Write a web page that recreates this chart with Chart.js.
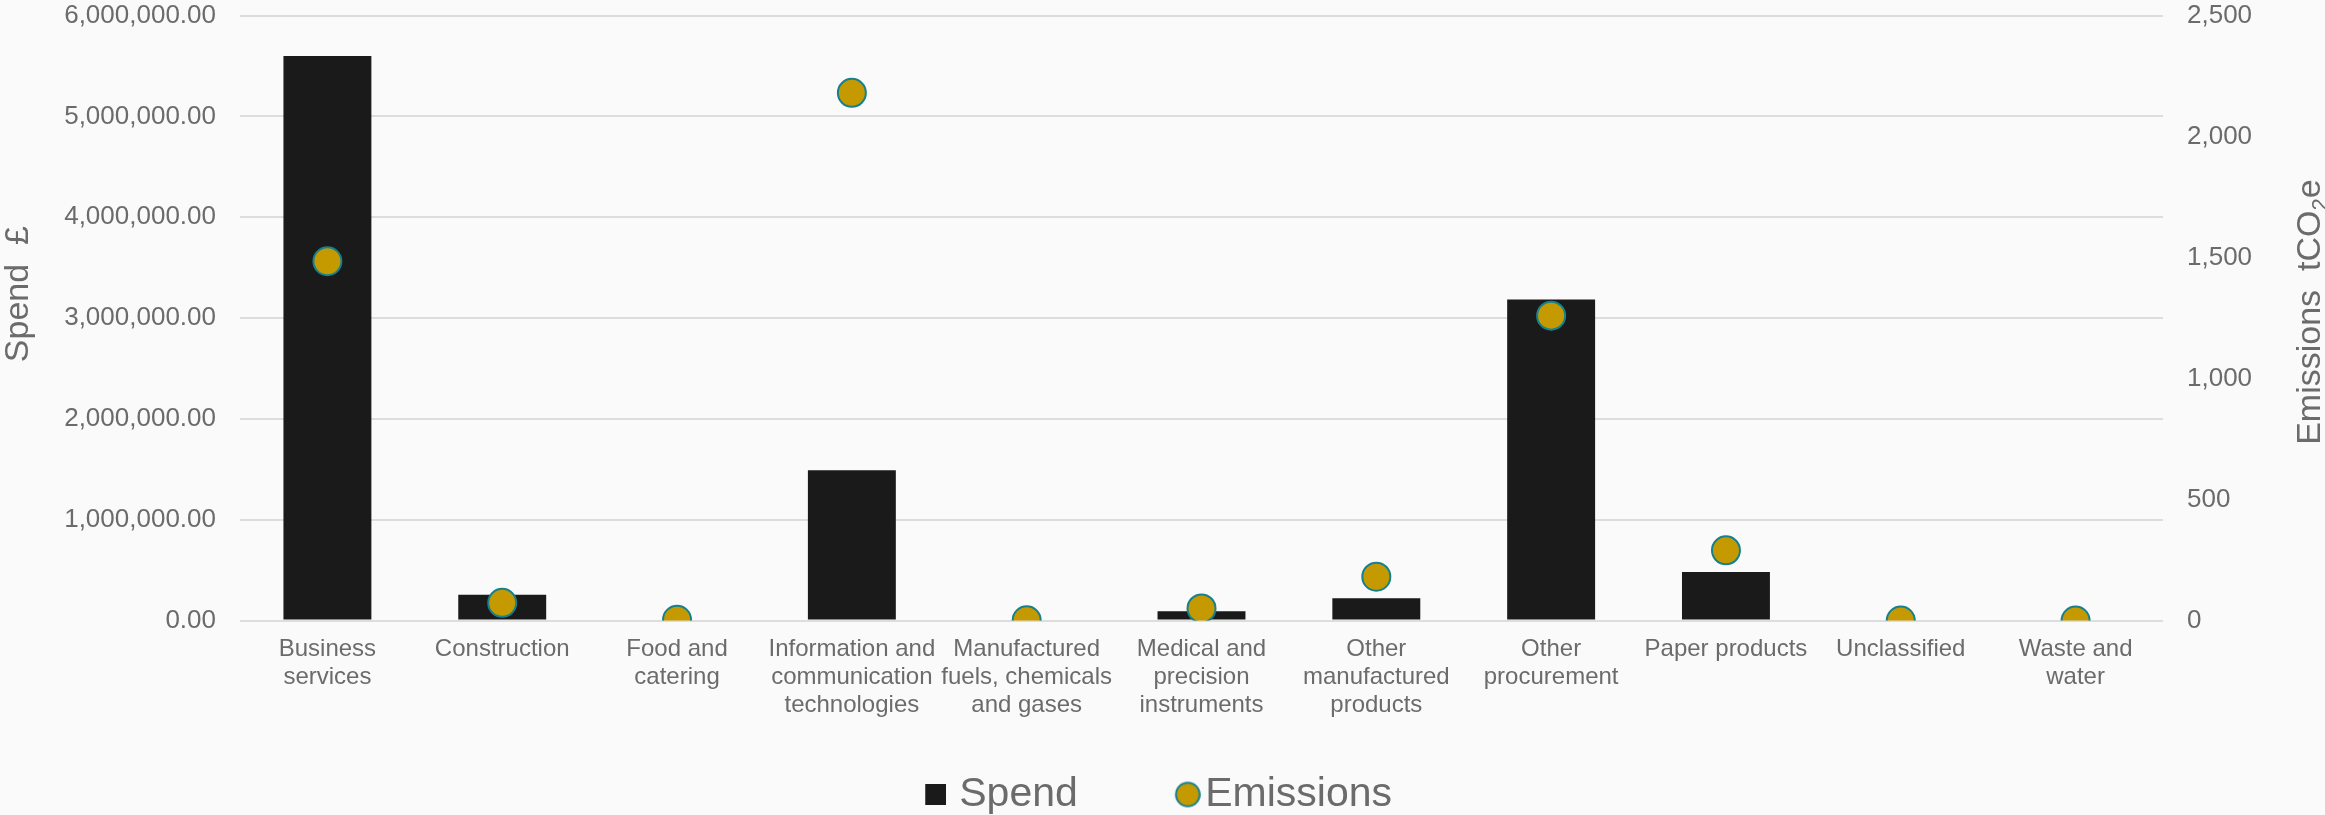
<!DOCTYPE html>
<html>
<head>
<meta charset="utf-8">
<title>Spend and emissions by category</title>
<script src="https://cdn.jsdelivr.net/npm/chart.js@4/dist/chart.umd.min.js"></script>
<style>
  html, body { margin: 0; padding: 0; background: #fafafa; overflow: hidden; }
  #wrap { width: 2325px; height: 825px; }
</style>
</head>
<body>
<div id="wrap"><canvas id="myChart" width="2325" height="825"></canvas></div>
<script>
const categories = [
  ['Business', 'services'],
  ['Construction'],
  ['Food and', 'catering'],
  ['Information and', 'communication', 'technologies'],
  ['Manufactured', 'fuels, chemicals', 'and gases'],
  ['Medical and', 'precision', 'instruments'],
  ['Other', 'manufactured', 'products'],
  ['Other', 'procurement'],
  ['Paper products'],
  ['Unclassified'],
  ['Waste and', 'water']
];

// spend in pounds
const spend = [5600000, 255000, 0, 1490000, 0, 93000, 220000, 3185000, 482000, 0, 0];

// emissions in tCO2e
const emissions = [1485, 73, 3, 2181, 1, 50, 181, 1260, 290, 0, 0];

const spendTicks = [0, 1000000, 2000000, 3000000, 4000000, 5000000, 6000000];
const emissionTicks = [0, 500, 1000, 1500, 2000, 2500];

const grey = '#6b6b6b';
const barColour = '#1a1a1a';
const dotFill = '#c49a00';
const dotEdge = '#16808f';
const fontFamily = '"Liberation Sans", Arial, sans-serif';

Chart.defaults.font.family = fontFamily;
Chart.defaults.color = grey;

// legend markers: a square for the bars, a ringed dot for the emissions
function squareMarker() {
  const c = document.createElement('canvas');
  c.width = 55; c.height = 21;
  const g = c.getContext('2d');
  g.fillStyle = barColour;
  g.fillRect(34, 0, 21, 21);
  return c;
}
function dotMarker() {
  const c = document.createElement('canvas');
  c.width = 72; c.height = 28;
  const g = c.getContext('2d');
  g.beginPath();
  g.arc(59, 14, 11.8, 0, Math.PI * 2);
  g.fillStyle = dotFill;
  g.fill();
  g.lineWidth = 2;
  g.strokeStyle = dotEdge;
  g.stroke();
  return c;
}

// rotated axis titles, both reading bottom to top
const axisTitles = {
  id: 'axisTitles',
  afterDraw(chart) {
    const c = chart.ctx;
    const area = chart.chartArea;
    const mid = (area.top + area.bottom) / 2;
    c.save();
    c.fillStyle = grey;
    c.textBaseline = 'alphabetic';
    c.font = '34px ' + fontFamily;

    c.save();
    c.translate(28, mid - 24);
    c.rotate(-Math.PI / 2);
    c.textAlign = 'center';
    c.fillText('Spend  £', 0, 0);
    c.restore();

    const main = 'Emissions  tCO';
    const tail = 'e';
    const w1 = c.measureText(main).width;
    const w3 = c.measureText(tail).width;
    c.font = '22px ' + fontFamily;
    const w2 = c.measureText('2').width;
    const total = w1 + w2 + w3;
    c.translate(chart.width - 5, mid - 6);
    c.rotate(-Math.PI / 2);
    c.textAlign = 'left';
    let x = -total / 2;
    c.font = '34px ' + fontFamily;
    c.fillText(main, x, 0);
    x += w1;
    c.font = '22px ' + fontFamily;
    c.fillText('2', x, 7);
    x += w2;
    c.font = '34px ' + fontFamily;
    c.fillText(tail, x, 0);
    c.restore();
  }
};

const ctx = document.getElementById('myChart');

new Chart(ctx, {
  data: {
    labels: categories,
    datasets: [
      {
        type: 'line',
        label: 'Emissions',
        data: emissions,
        yAxisID: 'y1',
        showLine: false,
        pointStyle: 'circle',
        pointRadius: 14,
        pointHoverRadius: 14,
        pointBorderWidth: 2,
        pointBackgroundColor: dotFill,
        pointBorderColor: dotEdge,
        backgroundColor: dotFill,
        borderColor: dotEdge,
        order: 0
      },
      {
        type: 'bar',
        label: 'Spend',
        data: spend,
        yAxisID: 'y',
        backgroundColor: barColour,
        borderWidth: 0,
        categoryPercentage: 1,
        barPercentage: 0.503,
        order: 1
      }
    ]
  },
  plugins: [axisTitles],
  options: {
    responsive: false,
    animation: false,
    devicePixelRatio: 1,
    layout: { padding: 0, autoPadding: false },
    plugins: {
      tooltip: { enabled: false },
      legend: {
        position: 'bottom',
        reverse: true,
        labels: {
          usePointStyle: true,
          boxHeight: 17,
          padding: 10,
          color: grey,
          font: { size: 41 },
          generateLabels: chart => {
            const items = Chart.defaults.plugins.legend.labels.generateLabels(chart);
            items.forEach(item => {
              if (item.text === 'Spend') {
                item.pointStyle = squareMarker();
                item.text = 'Spend' + '\u00A0'.repeat(5);
              } else {
                item.pointStyle = dotMarker();
                item.text = item.text + '\u00A0'.repeat(3);
              }
            });
            return items;
          }
        }
      }
    },
    scales: {
      x: {
        grid: { display: false, drawTicks: false },
        border: { display: false },
        ticks: {
          autoSkip: false,
          maxRotation: 0,
          minRotation: 0,
          padding: 15,
          color: grey,
          font: { size: 24, lineHeight: 1.16 }
        },
        afterFit: s => { s.height = 143.5; }
      },
      y: {
        position: 'left',
        min: 0,
        max: 6000000,
        afterBuildTicks: s => { s.ticks = spendTicks.map(v => ({ value: v })); },
        grid: { color: '#dddddd', lineWidth: 2, drawTicks: false },
        border: { display: false },
        ticks: {
          padding: 24,
          color: grey,
          font: { size: 26 },
          callback: v => v.toLocaleString('en-US', { minimumFractionDigits: 2, maximumFractionDigits: 2 })
        },
        afterFit: s => { s.width = 240; s.paddingTop = 15.7; }
      },
      y1: {
        position: 'right',
        min: 0,
        max: 2500,
        afterBuildTicks: s => { s.ticks = emissionTicks.map(v => ({ value: v })); },
        grid: { display: false, drawTicks: false },
        border: { display: false },
        ticks: {
          padding: 24,
          color: grey,
          font: { size: 26 },
          callback: v => v.toLocaleString('en-US')
        },
        afterFit: s => { s.width = 162; s.paddingTop = 15.7; }
      }
    }
  }
});
</script>
</body>
</html>
